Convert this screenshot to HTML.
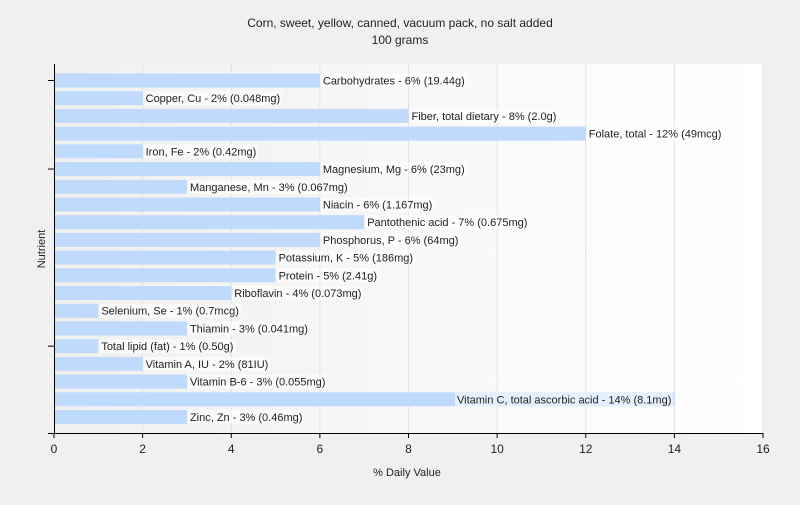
<!DOCTYPE html>
<html><head><meta charset="utf-8"><style>
body{margin:0;background:#f0f0f0;font-family:"Liberation Sans",sans-serif}
</style></head><body>
<svg width="800" height="500" viewBox="0 0 800 500" xmlns="http://www.w3.org/2000/svg">
<defs><linearGradient id="bg" x1="0" x2="1" y1="0" y2="0"><stop offset="0" stop-color="#f0f0ef"/><stop offset="1" stop-color="#ffffff"/></linearGradient></defs>
<rect width="800" height="500" fill="#f0f0f0"/>
<rect x="54" y="64" width="709" height="369" fill="url(#bg)"/>
<text x="400" y="27" text-anchor="middle" font-size="12" fill="#222">Corn, sweet, yellow, canned, vacuum pack, no salt added</text>
<text x="400" y="44" text-anchor="middle" font-size="12" fill="#222">100 grams</text>
<g id="grid"></g><g id="bars"></g><g id="axes"></g>
<text x="407" y="476" text-anchor="middle" font-size="11" fill="#222">% Daily Value</text>
<text x="0" y="0" transform="translate(45,249) rotate(-90)" text-anchor="middle" font-size="11" fill="#222">Nutrient</text>
</svg>
<script>
const categories=["Carbohydrates","Copper, Cu","Fiber, total dietary","Folate, total","Iron, Fe","Magnesium, Mg","Manganese, Mn","Niacin","Pantothenic acid","Phosphorus, P","Potassium, K","Protein","Riboflavin","Selenium, Se","Thiamin","Total lipid (fat)","Vitamin A, IU","Vitamin B-6","Vitamin C, total ascorbic acid","Zinc, Zn"];
const values=[6,2,8,12,2,6,3,6,7,6,5,5,4,1,3,1,2,3,14,3];
const amounts=["19.44g","0.048mg","2.0g","49mcg","0.42mg","23mg","0.067mg","1.167mg","0.675mg","64mg","186mg","2.41g","0.073mg","0.7mcg","0.041mg","0.50g","81IU","0.055mg","8.1mg","0.46mg"];
const xTicks=[0,2,4,6,8,10,12,14,16];
const NS="http://www.w3.org/2000/svg";
const x0=54,x1=763,yTop=64,yBot=433;
const xs=v=>x0+(v-0)/(16-0)*(x1-x0);
const step=(417-80.5)/19;
const yc=i=>80.5+i*step;
function mk(tag,attrs,parent){const e=document.createElementNS(NS,tag);for(const k in attrs)e.setAttribute(k,attrs[k]);parent.appendChild(e);return e;}
const grid=document.getElementById('grid'),bars=document.getElementById('bars'),axes=document.getElementById('axes');
xTicks.forEach(t=>{
 if(t>0){const g=mk('line',{x1:xs(t),x2:xs(t),y1:yTop,y2:yBot,stroke:'#e2e2e2'},grid);
 
 }
 const tk=mk('line',{x1:xs(t),x2:xs(t),y1:yBot,y2:yBot+5,stroke:'#000'},axes);
 
 
 const tl=mk('text',{x:xs(t),y:yBot+20,'text-anchor':'middle','font-size':12,fill:'#222'},axes);
 tl.textContent=t;
 
 
});
categories.forEach((c,i)=>{
 const r=mk('rect',{x:x0,y:yc(i)-7,width:xs(values[i])-x0,height:14,fill:'#bfdafc'},bars);
 
 
 const bgR=mk('rect',{fill:'#ffffff','fill-opacity':0.6},bars);
 
 
 const t=mk('text',{x:xs(values[i])+3,y:yc(i)+4,'font-size':11,fill:'#222'},bars);
 t.textContent=c+' - '+values[i]+'% ('+amounts[i]+')';
 
 
 let b=t.getBBox();
 if(b.x+b.width>x1-2){t.setAttribute('x',xs(values[i])-3);t.setAttribute('text-anchor','end');b=t.getBBox();}
 bgR.setAttribute('x',b.x-2);bgR.setAttribute('y',yc(i)-7);bgR.setAttribute('width',b.width+4);bgR.setAttribute('height',14);
});
[0,5,15].forEach(i=>{
 const tk=mk('line',{x1:x0-6,x2:x0,y1:yc(i),y2:yc(i),stroke:'#000'},axes);
 
 
});
const ya=mk('line',{x1:x0+0.5,x2:x0+0.5,y1:yTop,y2:yBot,stroke:'#000'},axes);


const xa=mk('line',{x1:x0-6,x2:x1,y1:yBot+0.5,y2:yBot+0.5,stroke:'#000'},axes);


</script>
</body></html>
